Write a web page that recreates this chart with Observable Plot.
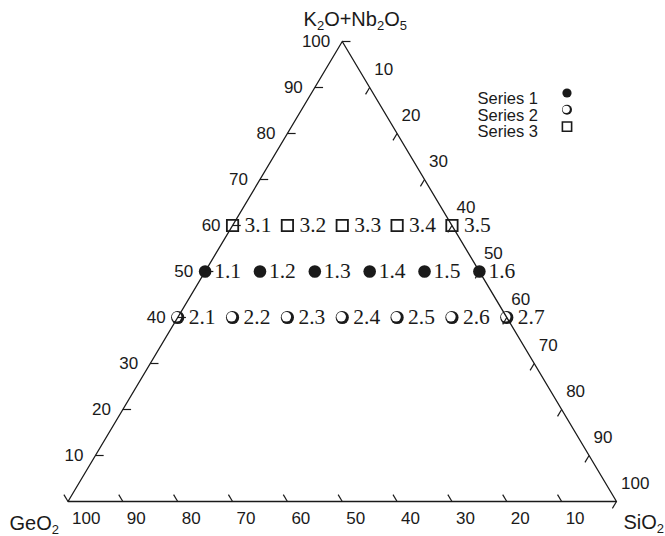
<!DOCTYPE html>
<html>
<head>
<meta charset="utf-8">
<script src="https://cdn.jsdelivr.net/npm/d3@7"></script>
<script src="https://cdn.jsdelivr.net/npm/@observablehq/plot@0.6"></script>
<style>
  body { margin: 0; background: #fff; }
  #chart svg { display: block; }
</style>
</head>
<body>
<div id="chart"></div>
<script>
// Ternary compositions (mol %): K2O+Nb2O5 at the apex, GeO2 bottom-left, SiO2 bottom-right.
// GeO2 is the remainder: 100 - K2O+Nb2O5 - SiO2.
const seriesNames = ["Series 1", "Series 2", "Series 3"];

const s1Labels = ["1.1", "1.2", "1.3", "1.4", "1.5", "1.6"];
const s1K = [50, 50, 50, 50, 50, 50];
const s1Si = [0, 10, 20, 30, 40, 50];

const s2Labels = ["2.1", "2.2", "2.3", "2.4", "2.5", "2.6", "2.7"];
const s2K = [40, 40, 40, 40, 40, 40, 40];
const s2Si = [0, 10, 20, 30, 40, 50, 60];

const s3Labels = ["3.1", "3.2", "3.3", "3.4", "3.5"];
const s3K = [60, 60, 60, 60, 60];
const s3Si = [0, 10, 20, 30, 40];

const tickValues = [10, 20, 30, 40, 50, 60, 70, 80, 90, 100];
const vertexTitles = ["K2O+Nb2O5", "GeO2", "SiO2"];

// Ternary -> cartesian (unit triangle, apex at x = 0.5)
const tx = d => (d.Si + d.K / 2) / 100;
const ty = d => d.K / 100;

const toRows = (labels, K, Si) => labels.map((label, i) => ({label, K: K[i], Si: Si[i]}));
const s1 = toRows(s1Labels, s1K, s1Si);
const s2 = toRows(s2Labels, s2K, s2Si);
const s3 = toRows(s3Labels, s3K, s3Si);

// Triangle outline through the three pure components
const corners = [{K: 100, Si: 0}, {K: 0, Si: 0}, {K: 0, Si: 100}, {K: 100, Si: 0}];

// Tick marks run along the iso-lines of each component
const T = 1.5;
const leftTicks = tickValues.map(k => ({a: {K: k, Si: 0}, b: {K: k, Si: T}, v: k}));          // K2O+Nb2O5
const rightTicks = tickValues.map(s => ({a: {K: 100 - s, Si: s}, b: {K: 100 - s - T, Si: s}, v: s})); // SiO2
const bottomTicks = tickValues.map(g => ({a: {K: 0, Si: 100 - g}, b: {K: T, Si: 100 - g - T}, v: g})); // GeO2
const allTicks = [...leftTicks, ...rightTicks, ...bottomTicks];

const sans = "'Liberation Sans', Arial, sans-serif";
const serif = "'Liberation Serif', 'Times New Roman', serif";
const ink = "#1a1a1a";

// Series 2 marker: open circle with a heavy lower-right rim
const crescent = (data, r, opts = {}) => [
  Plot.dot(data, {...opts, r, fill: ink, stroke: "none"}),
  Plot.dot(data, {...opts, r: r * 0.72, fill: "white", stroke: "none", dx: (opts.dx || 0) - r * 0.16, dy: (opts.dy || 0) - r * 0.1})
];

const legendText = seriesNames.map((name, i) =>
  Plot.text([name], {frameAnchor: "top-left", dx: 409.5, dy: 50.5 + i * 16.8, text: d => d,
    textAnchor: "start", fontSize: 16.5, fontFamily: sans, fill: ink}));
const legendAt = i => ({frameAnchor: "top-left", dx: 499, dy: 51.5 + i * 16.8});

const chart = Plot.plot({
  width: 665,
  height: 536,
  marginLeft: 67.5,
  marginRight: 49,
  marginTop: 41,
  marginBottom: 35,
  x: {domain: [0, 1], axis: null},
  y: {domain: [0, 1], axis: null},
  marks: [
    // data points
    Plot.dot(s3, {x: tx, y: ty, symbol: "square", r: 6.4, fill: "white", stroke: ink, strokeWidth: 1.8}),
    Plot.dot(s1, {x: tx, y: ty, r: 6.3, fill: ink}),
    ...crescent(s2, 6.6, {x: tx, y: ty}),
    Plot.text(s3, {x: tx, y: ty, text: "label", dx: 12, textAnchor: "start", fontSize: 21.5, fontFamily: serif, fill: ink}),
    Plot.text(s1, {x: tx, y: ty, text: "label", dx: 9, textAnchor: "start", fontSize: 21.5, fontFamily: serif, fill: ink}),
    Plot.text(s2, {x: tx, y: ty, text: "label", dx: 11, textAnchor: "start", fontSize: 21.5, fontFamily: serif, fill: ink}),

    // frame and ticks
    Plot.line(corners, {x: tx, y: ty, stroke: ink, strokeWidth: 1.3}),
    Plot.link(allTicks, {x1: d => tx(d.a), y1: d => ty(d.a), x2: d => tx(d.b), y2: d => ty(d.b), stroke: ink, strokeWidth: 1.2}),

    // tick labels
    Plot.text(leftTicks, {x: d => tx(d.a), y: d => ty(d.a), text: "v", textAnchor: "end", dx: -12,
      fontSize: 17, fontFamily: sans, fill: ink}),
    Plot.text(rightTicks, {x: d => tx(d.a), y: d => ty(d.a), text: "v", textAnchor: "start", dx: 4.5, dy: -18,
      fontSize: 17, fontFamily: sans, fill: ink}),
    Plot.text(bottomTicks, {x: d => tx(d.a), y: d => ty(d.a), text: "v", textAnchor: "start", dx: 4, dy: 17,
      fontSize: 17, fontFamily: sans, fill: ink}),

    // component names at the vertices
    Plot.text([{K: 100, Si: 0, t: vertexTitles[0]}], {x: tx, y: ty, text: "t", textAnchor: "middle", dx: 13, dy: -21.5,
      fontSize: 20, fontFamily: sans, fill: ink}),
    Plot.text([{K: 0, Si: 0, t: vertexTitles[1]}], {x: tx, y: ty, text: "t", textAnchor: "end", dx: -9, dy: 22,
      fontSize: 20, fontFamily: sans, fill: ink}),
    Plot.text([{K: 0, Si: 100, t: vertexTitles[2]}], {x: tx, y: ty, text: "t", textAnchor: "start", dx: 7, dy: 21,
      fontSize: 20, fontFamily: sans, fill: ink}),

    // legend
    ...legendText,
    Plot.dot([0], {...legendAt(0), r: 4.6, fill: ink}),
    ...crescent([0], 5, legendAt(1)),
    Plot.dot([0], {...legendAt(2), symbol: "square", r: 5.2, fill: "white", stroke: ink, strokeWidth: 1.6})
  ]
});

// Chemical formulas: set digits as subscripts
d3.select(chart).selectAll("text")
  .filter(function() { return vertexTitles.includes(this.textContent); })
  .each(function() {
    const el = d3.select(this);
    const str = this.textContent;
    el.selectAll("*").remove();
    el.text(null);
    let sub = false;
    for (const part of str.match(/\d+|\D+/g)) {
      const ts = el.append("tspan").text(part);
      if (/\d/.test(part)) { ts.attr("font-size", 13).attr("dy", 4); sub = true; }
      else if (sub) { ts.attr("dy", -4); sub = false; }
    }
  });

document.getElementById("chart").append(chart);
</script>
</body>
</html>
